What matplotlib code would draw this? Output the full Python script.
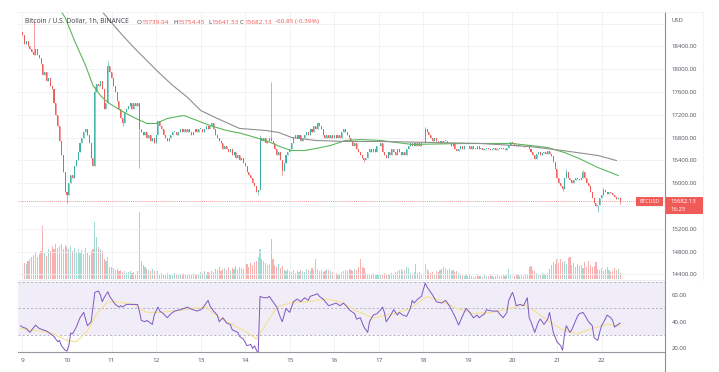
import numpy as np
import pandas as pd
import matplotlib
matplotlib.use("Agg")
import matplotlib.pyplot as plt
from matplotlib.lines import Line2D
from matplotlib.patches import Rectangle
from matplotlib.transforms import blended_transform_factory

plt.rcParams['font.family'] = ['Open Sans', 'DejaVu Sans']

# --- Datos: velas de 1h BTCUSD (Binance), desde 2022-11-09 00:00 ---
start = pd.Timestamp("2022-11-09 00:00")
first_open = 18650

close_d09 = [18600, 18450, 18500, 18400, 18350, 18300, 18250, 18350, 18250, 18200, 18100, 17900,
             17950, 17800, 17850, 17700, 17650, 17400, 17200, 17000, 16750, 16500, 16200, 15850]
close_d10 = [15800, 16000, 16150, 16100, 16300, 16400, 16550, 16700, 16800, 16900, 16950, 16850,
             16700, 16450, 16300, 17600, 17750, 17700, 17800, 17650, 17300, 17400, 18050, 17950]
close_d11 = [17850, 17700, 17600, 17450, 17300, 17150, 17050, 17250, 17300, 17350, 17400, 17300,
             17400, 17350, 17400, 16950, 16900, 16850, 16900, 16800, 16850, 16750, 16800, 16700]
close_d12 = [16850, 17100, 17000, 16950, 16850, 16800, 16750, 16800, 16850, 16900, 16900, 16850,
             16900, 16950, 16900, 16950, 16900, 16950, 16900, 16850, 16900, 16950, 16900, 16950]
close_d13 = [16950, 16900, 16950, 17000, 16950, 17000, 17050, 16950, 16850, 16800, 16750, 16700,
             16600, 16650, 16600, 16550, 16600, 16500, 16550, 16450, 16500, 16400, 16450, 16350]
close_d14 = [16300, 16200, 16150, 16100, 16000, 15950, 15850, 15880, 16800, 16750, 16800, 16700,
             16750, 16800, 16750, 16700, 16600, 16500, 16550, 16400, 16220, 16350, 16500, 16550]
close_d15 = [16600, 16700, 16800, 16850, 16800, 16850, 16750, 16800, 16850, 16900, 16850, 16950,
             16900, 17000, 16950, 17050, 17000, 16950, 16850, 16800, 16850, 16800, 16850, 16800]
close_d16 = [16850, 16800, 16850, 16800, 16900, 16950, 16900, 16850, 16800, 16750, 16650, 16700,
             16600, 16550, 16500, 16450, 16400, 16450, 16550, 16600, 16550, 16600, 16550, 16650]
close_d17 = [16650, 16700, 16550, 16500, 16450, 16550, 16500, 16600, 16550, 16500, 16600, 16550,
             16500, 16550, 16500, 16600, 16650, 16700, 16650, 16700, 16650, 16700, 16650, 16700]
close_d18 = [16700, 16950, 16900, 16850, 16800, 16750, 16800, 16750, 16700, 16750, 16700, 16750,
             16750, 16700, 16700, 16650, 16700, 16600, 16570, 16600, 16650, 16600, 16650, 16650]
close_d19 = [16650, 16600, 16650, 16600, 16600, 16650, 16600, 16620, 16580, 16600, 16620, 16600,
             16580, 16600, 16620, 16580, 16600, 16600, 16620, 16600, 16580, 16620, 16680, 16720]
close_d20 = [16700, 16680, 16650, 16680, 16650, 16660, 16640, 16650, 16680, 16600, 16550, 16500,
             16420, 16520, 16550, 16500, 16540, 16550, 16520, 16560, 16520, 16480, 16380, 16250]
close_d21 = [16100, 16000, 15950, 15900, 16100, 16200, 16100, 16050, 16000, 16050, 16100, 16080,
             16050, 16100, 16200, 16100, 16000, 15950, 15850, 15750, 15650, 15600, 15620, 15750]
close_d22 = [15800, 15880, 15850, 15820, 15850, 15830, 15800, 15760, 15720, 15742.98, 15682.13]

# ultima vela (O, H, L, C) tal como la muestra la leyenda
last_ohlc = (15739.94, 15754.45, 15641.53, 15682.13)

# mechas destacadas {hora: precio}
wick_high = {6: 18850, 39: 17700, 46: 18150, 128: 16850, 134: 17770, 159: 17080,
             217: 16980, 293: 16250, 302: 16230, 313: 15910}
wick_low = {24: 15660, 54: 17000, 63: 16260, 127: 15800, 140: 16150, 184: 16380,
            291: 15870, 310: 15490}

# volumen (x100 BTC)
vol_d09 = [14, 16, 15, 18, 20, 22, 24, 27, 22, 25, 28, 53, 26, 23, 30, 28, 33, 30, 35, 31, 33, 35, 30, 34]
vol_d10 = [32, 30, 33, 28, 31, 27, 30, 26, 29, 25, 31, 27, 24, 28, 30, 57, 42, 32, 30, 28, 20, 18, 22, 12]
vol_d11 = [12, 11, 9, 10, 8, 9, 7, 8, 6, 7, 8, 6, 7, 5, 8, 67, 18, 14, 12, 10, 9, 8, 10, 8]
vol_d12 = [6, 8, 5, 6, 4, 5, 6, 4, 5, 4, 6, 5, 4, 5, 4, 6, 5, 4, 5, 4, 6, 5, 4, 5]
vol_d13 = [7, 6, 8, 5, 7, 6, 8, 7, 10, 9, 12, 8, 10, 11, 9, 12, 8, 11, 10, 13, 9, 12, 11, 10]
vol_d14 = [13, 15, 12, 16, 14, 17, 18, 22, 30, 20, 18, 16, 14, 15, 40, 20, 14, 12, 15, 11, 13, 9, 8, 10]
vol_d15 = [8, 7, 9, 6, 8, 7, 9, 8, 7, 10, 9, 8, 11, 9, 20, 10, 8, 9, 7, 8, 10, 9, 8, 7]
vol_d16 = [5, 6, 4, 5, 7, 8, 9, 8, 10, 9, 8, 10, 9, 12, 20, 12, 11, 6, 5, 4, 5, 6, 4, 5]
vol_d17 = [4, 5, 4, 6, 5, 4, 5, 6, 5, 7, 8, 9, 10, 8, 9, 12, 11, 6, 5, 7, 15, 6, 7, 5]
vol_d18 = [6, 15, 10, 8, 6, 7, 5, 8, 7, 9, 10, 12, 11, 9, 10, 8, 9, 7, 8, 6, 5, 4, 3, 4]
vol_d19 = [3, 4, 3, 2, 3, 4, 3, 3, 2, 4, 3, 3, 4, 3, 2, 3, 4, 3, 3, 4, 3, 4, 10, 5]
vol_d20 = [4, 3, 5, 4, 3, 4, 3, 5, 4, 12, 13, 9, 8, 6, 5, 4, 6, 5, 4, 6, 10, 14, 17, 15]
vol_d21 = [20, 16, 20, 17, 18, 15, 21, 22, 14, 16, 12, 15, 13, 14, 11, 17, 12, 18, 14, 12, 13, 17, 10, 9]
vol_d22 = [11, 8, 10, 12, 9, 7, 8, 11, 9, 10, 6]

# medias moviles (hora, precio)
ma_verde = [(19, 19100), (23, 18909), (28, 18505), (34, 18067), (38, 17716), (42, 17540),
            (46, 17418), (53, 17277), (60, 17155), (67, 17049), (72, 17049), (78, 17137),
            (87, 17190), (94, 17102), (101, 17014), (110, 16927), (118, 16874), (131, 16751),
            (140, 16628), (145, 16575), (152, 16575), (158, 16610), (166, 16663), (174, 16751),
            (182, 16768), (193, 16751), (210, 16681), (237, 16698), (264, 16698), (283, 16628),
            (292, 16540), (300, 16435), (310, 16277), (321, 16137)]
ma_gris = [(40, 19150), (43, 19010), (47, 18856), (54, 18593), (60, 18382), (67, 18154),
           (74, 17926), (81, 17716), (89, 17505), (96, 17277), (105, 17137), (117, 16962),
           (131, 16927), (138, 16892), (145, 16804), (158, 16751), (174, 16734), (193, 16734),
           (220, 16716), (247, 16698), (273, 16646), (291, 16575), (310, 16488), (320, 16400)]

# RSI (hora, valor) y su media
rsi_pts = [(-1, 37), (0, 36), (2, 35), (4, 32), (7, 37.5), (9, 35), (11, 34), (13, 33), (15, 31),
           (17, 29), (19, 25), (20, 26), (21, 22), (23, 18.6), (24, 18), (25, 22), (26, 31.5),
           (27, 31), (29, 36), (31, 43), (33, 47), (34, 42), (35, 37), (37, 40), (39, 62), (41, 63),
           (42, 60), (43, 55), (44, 58), (46, 62.5), (47, 59), (49, 55), (50, 53), (52, 51), (53, 52),
           (54, 51), (56, 53), (59, 53), (62, 53), (63, 48), (64, 41), (66, 40), (67, 41), (69, 39),
           (70, 38), (71, 45), (73, 51), (74, 48), (76, 46), (78, 43), (80, 46), (82, 48), (85, 49),
           (89, 51), (90, 50), (92, 49), (94, 48), (96, 49), (97, 50), (100, 56), (101, 52),
           (103, 48), (105, 45), (106, 40), (108, 43), (110, 39), (112, 38), (113, 34), (116, 32),
           (117, 29), (119, 27), (121, 22), (123, 23), (124, 20), (125, 22), (127, 16), (128, 59),
           (130, 58), (132, 58), (133, 59), (135, 55), (137, 51), (139, 43), (140, 40), (142, 50),
           (144, 47), (146, 55), (148, 57), (150, 55), (152, 58), (154, 56), (155, 59), (157, 60),
           (159, 61), (160, 59), (162, 57), (165, 52), (167, 53), (169, 54), (171, 52), (173, 54),
           (175, 51), (176, 49), (179, 46), (180, 42), (182, 43), (184, 36), (186, 32), (187, 40),
           (189, 45), (191, 46), (193, 49), (194, 51), (195, 47), (196, 40), (198, 44), (200, 49),
           (202, 45), (203, 47), (205, 45), (207, 44), (209, 50), (210, 56), (211, 54), (213, 57),
           (215, 59), (217, 69), (218, 66), (221, 60), (223, 55), (226, 54), (228, 56), (230, 52),
           (233, 44), (235, 37.5), (237, 44), (239, 50), (241, 47), (243, 43), (245, 45), (246, 43),
           (249, 46), (250, 49), (253, 48), (256, 48), (257, 46), (259, 43), (261, 47), (262, 56),
           (264, 62), (265, 58), (266, 52), (268, 53), (270, 52), (272, 58), (273, 43), (274, 40),
           (276, 32), (278, 40), (279, 42), (281, 38), (283, 42), (284, 47), (286, 32), (288, 25),
           (290, 22), (291, 18.6), (292, 30), (293, 37), (295, 32), (296, 34), (299, 44), (300, 46),
           (302, 47), (303, 45), (305, 40), (307, 37), (308, 28), (310, 26), (311, 32), (312, 37),
           (314, 42), (315, 45), (317, 43), (318, 41), (319, 36), (320, 37), (322, 39)]
rsi_ma_pts = [(-1, 35), (15, 32), (24, 26), (29, 25), (35, 33), (40, 46), (46, 55), (51, 55),
              (60, 53), (67, 47), (74, 47), (81, 48), (92, 50), (99, 51), (106, 43), (113, 38),
              (121, 32), (126, 27), (132, 40), (137, 51), (144, 54), (153, 55), (164, 57), (171, 55),
              (180, 48), (189, 43), (200, 46), (209, 50), (218, 59), (225, 56), (234, 50), (243, 46),
              (253, 47), (263, 50), (270, 53), (277, 47), (284, 40), (291, 34), (299, 31), (307, 35),
              (315, 38), (322, 37)]

price_ticks = [14400, 14800, 15200, 15600, 16000, 16400, 16800, 17200, 17600, 18000, 18400, 18800]
rsi_ticks = [20, 40, 60]

# --- Preparar series ---
closes = np.array(close_d09 + close_d10 + close_d11 + close_d12 + close_d13 + close_d14 + close_d15
                  + close_d16 + close_d17 + close_d18 + close_d19 + close_d20 + close_d21 + close_d22,
                  dtype=float)
vols = np.array(vol_d09 + vol_d10 + vol_d11 + vol_d12 + vol_d13 + vol_d14 + vol_d15 + vol_d16
                + vol_d17 + vol_d18 + vol_d19 + vol_d20 + vol_d21 + vol_d22, dtype=float) * 100
n = len(closes)
hours = np.arange(n)
opens = np.r_[first_open, closes[:-1]]
opens[-1] = last_ohlc[0]
highs = np.maximum(opens, closes)
lows = np.minimum(opens, closes)
for h, v in wick_high.items():
    highs[h] = v
for h, v in wick_low.items():
    lows[h] = v
highs[-1], lows[-1] = last_ohlc[1], last_ohlc[2]

BULL, BEAR = '#33ad9f', '#ef5350'
colors = np.where(closes >= opens, BULL, BEAR)

# --- Figura ---
W, H = 719, 372
fig = plt.figure(figsize=(W / 100, H / 100), dpi=100)


def caja(x0, y0, x1, y1):
    return [x0 / W, 1 - y1 / H, (x1 - x0) / W, (y1 - y0) / H]


ax = fig.add_axes(caja(18, 12, 665, 279))
ax_vol = ax.twinx()
ax.set_zorder(ax_vol.get_zorder() + 1)
ax.patch.set_visible(False)
ax_rsi = fig.add_axes(caja(18, 280, 665, 352), sharex=ax)

day_hours = np.arange(0, n, 24)
day_labels = [str((start + pd.Timedelta(hours=int(h))).day) for h in day_hours]

# volumen
ax_vol.bar(hours, vols, width=0.6, color=colors, alpha=0.45, linewidth=0)
ax_vol.set_ylim(0, 26700)
ax_vol.set_yticks([])

# velas
ax.vlines(hours, lows, highs, colors=colors, linewidth=0.45, alpha=0.9, zorder=3)
body = np.maximum(np.abs(closes - opens), 12)
ax.bar(hours, body, bottom=np.minimum(opens, closes), width=0.55, color=colors,
       alpha=0.9, linewidth=0, zorder=4)

# medias
gh, gv = zip(*ma_verde)
ax.plot(gh, gv, color='#5cb85c', linewidth=0.8, zorder=5)
gh, gv = zip(*ma_gris)
ax.plot(gh, gv, color='#8f8f8f', linewidth=0.8, zorder=5)

# linea de precio actual
ax.axhline(last_ohlc[3], color=BEAR, linewidth=0.5, linestyle=(0, (1.5, 1.5)), alpha=0.8, zorder=2)

ax.set_xlim(-2.4, 346.2)
ax.set_ylim(14321, 19005)
ax.set_xticks(day_hours)
ax.tick_params(axis='x', length=0, labelbottom=False)
ax.yaxis.tick_right()
ax.set_yticks(price_ticks)
ax.set_yticklabels(['' if t in (15600, 18800) else f'{t:.2f}' for t in price_ticks])
ax.tick_params(axis='y', length=0, pad=5, labelsize=4.3, labelcolor='#50535e')
ax.grid(True, color='#eef0f4', linewidth=0.6, zorder=0)
for a in (ax, ax_vol):
    for s in a.spines.values():
        s.set_visible(False)

# etiquetas de precio
tr = blended_transform_factory(ax.transAxes, ax.transData)
ax.add_patch(Rectangle((0.955, 15603), 0.042, 158, transform=tr, color='#f05a57',
                       linewidth=0, zorder=6, clip_on=False))
ax.text(0.976, last_ohlc[3], 'BTCUSD', transform=tr, ha='center', va='center',
        fontsize=3.8, color='white', zorder=7)
ax.add_patch(Rectangle((1.0, 15461), 0.059, 299, transform=tr, color='#f05a57',
                       linewidth=0, zorder=6, clip_on=False))
ax.text(1.008, last_ohlc[3], f'{last_ohlc[3]:.2f}', transform=tr, ha='left', va='center',
        fontsize=4.3, color='white', zorder=7, clip_on=False)
ax.text(1.008, 15542, '16:25', transform=tr, ha='left', va='center',
        fontsize=4.3, color='white', zorder=7, clip_on=False)

# RSI
ax_rsi.axhspan(30, 70, color='#7e57c2', alpha=0.1, linewidth=0)
for lvl in (70, 50, 30):
    ax_rsi.axhline(lvl, color='#a8a8b8', linewidth=0.6, linestyle=(0, (2.5, 2.5)))
rh, rv = zip(*rsi_pts)
ax_rsi.plot(rh, rv, color='#7e57c2', linewidth=0.7, zorder=4)
mh, mv = zip(*rsi_ma_pts)
ax_rsi.plot(mh, mv, color='#f3e29b', linewidth=0.9, zorder=3)
ax_rsi.set_ylim(17.3, 71.3)
ax_rsi.yaxis.tick_right()
ax_rsi.set_yticks(rsi_ticks)
ax_rsi.set_yticklabels([f'{t:.2f}' for t in rsi_ticks])
ax_rsi.tick_params(axis='y', length=0, pad=5, labelsize=4.3, labelcolor='#50535e')
ax_rsi.set_xticks(day_hours)
ax_rsi.set_xticklabels(day_labels)
ax_rsi.tick_params(axis='x', length=0, pad=4.5, labelsize=4.6, labelcolor='#50535e')
ax_rsi.grid(True, axis='x', color='#eef0f4', linewidth=0.6)
for name, s in ax_rsi.spines.items():
    s.set_visible(name in ('bottom', 'top'))
ax_rsi.spines['bottom'].set_color('#9598a1')
ax_rsi.spines['bottom'].set_linewidth(0.8)
ax_rsi.spines['top'].set_color('#e6e8ee')
ax_rsi.spines['top'].set_linewidth(0.5)

# eje derecho y marco
fig.add_artist(Line2D([665 / W, 665 / W], [0, 1 - 12 / H], color='#8e9099', linewidth=0.8))
fig.add_artist(Line2D([18 / W, 703 / W], [1 - 12 / H, 1 - 12 / H], color='#eceef2', linewidth=0.5))
fig.add_artist(Line2D([703 / W, 703 / W], [1 - 280 / H, 1 - 12 / H], color='#eceef2', linewidth=0.5))
fig.text(672 / W, 1 - 20 / H, 'USD', fontsize=4.3, color='#50535e', va='center')

# leyenda superior
ty = 1 - 22 / H
o, hi, lo, c = last_ohlc
chg = c - closes[-2]
fig.text(25 / W, ty, 'Bitcoin / U.S. Dollar, 1h, BINANCE', fontsize=4.9, color='#3c3f47', va='center')
for x_l, x_v, letra, val in [(137, 141, 'O', o), (173, 177, 'H', hi), (208, 211.5, 'L', lo),
                             (240, 244.5, 'C', c)]:
    fig.text(x_l / W, ty, letra, fontsize=4.6, color='#3c3f47', va='center')
    fig.text(x_v / W, ty, f'{val:.2f}', fontsize=4.6, color=BEAR, va='center')
fig.text(275 / W, ty, f'{chg:.2f} ({chg / closes[-2] * 100:.2f}%)', fontsize=4.6, color=BEAR, va='center')

fig.savefig('out.png', dpi=100)
